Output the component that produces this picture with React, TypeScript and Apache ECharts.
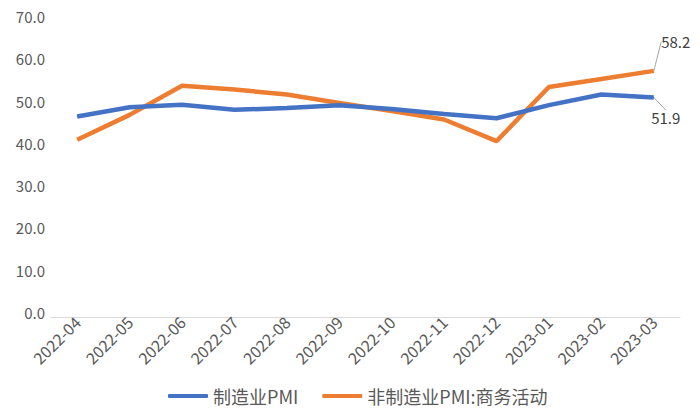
import React, { useEffect, useRef } from "react";
import * as echarts from "echarts";

const categories = ["2022-04","2022-05","2022-06","2022-07","2022-08","2022-09","2022-10","2022-11","2022-12","2023-01","2023-02","2023-03"];
const manufacturing = [47.4, 49.6, 50.2, 49.0, 49.4, 50.1, 49.2, 48.0, 47.0, 50.1, 52.6, 51.9];
const nonManufacturing = [41.9, 47.8, 54.7, 53.8, 52.6, 50.6, 48.7, 46.7, 41.6, 54.4, 56.3, 58.2];
const seriesNames = ["制造业PMI", "非制造业PMI:商务活动"];

const FONT = "'Noto Sans CJK SC', 'Noto Sans', sans-serif";

export default function App() {
  const ref = useRef<HTMLDivElement>(null);
  useEffect(() => {
    if (!ref.current) return;
    const chart = echarts.init(ref.current, null, { renderer: "svg" });
    const last = categories.length - 1;
    const mkData = (arr: number[], pos: string) =>
      arr.map((v, i) =>
        i === last
          ? {
              value: v,
              label: { show: true, position: pos, fontSize: 15, color: "#404040", fontFamily: FONT },
              labelLine: { show: true, lineStyle: { color: "#a6a6a6", width: 1 } },
            }
          : v
      );
    chart.setOption({
      animation: false,
      textStyle: { fontFamily: FONT },
      grid: { left: 51, right: 20, top: 21, bottom: 103 },
      legend: {
        bottom: 10,
        left: 163,
        itemWidth: 40,
        itemHeight: 4,
        itemGap: 24,
        icon: "roundRect",
        textStyle: { fontSize: 18, color: "#595959", fontFamily: FONT },
        data: seriesNames,
      },
      xAxis: {
        type: "category",
        data: categories,
        boundaryGap: true,
        axisLine: { show: true, lineStyle: { color: "#d9d9d9" } },
        axisTick: { show: false },
        axisLabel: { rotate: 45, fontSize: 16, color: "#595959", margin: 2, interval: 0, fontFamily: FONT },
      },
      yAxis: {
        type: "value",
        min: 0,
        max: 70,
        interval: 10,
        splitLine: { show: false },
        axisLine: { show: false },
        axisTick: { show: false },
        axisLabel: {
          fontSize: 15,
          color: "#595959",
          margin: 6,
          verticalAlign: "bottom",
          lineHeight: 9,
          formatter: (v: number) => v.toFixed(1),
          fontFamily: FONT,
        },
      },
      series: [
        {
          name: seriesNames[0],
          type: "line",
          data: mkData(manufacturing, "bottom"),
          symbol: "circle",
          symbolSize: 1,
          showSymbol: true,
          lineStyle: { width: 4.5, color: "#4472C4" },
          itemStyle: { color: "#4472C4" },
          label: { show: false },
          labelLayout: (p: any) => (p.dataIndex === last ? { dx: 12, dy: 7 } : {}),
          labelLine: { show: true, lineStyle: { color: "#a6a6a6", width: 1 } },
          z: 3,
        },
        {
          name: seriesNames[1],
          type: "line",
          data: mkData(nonManufacturing, "top"),
          symbol: "circle",
          symbolSize: 1,
          showSymbol: true,
          lineStyle: { width: 4.5, color: "#ED7D31" },
          itemStyle: { color: "#ED7D31" },
          label: { show: false },
          labelLayout: (p: any) => (p.dataIndex === last ? { dx: 22, dy: -16 } : {}),
          labelLine: { show: true, lineStyle: { color: "#a6a6a6", width: 1 } },
          z: 2,
        },
      ],
    });
    return () => chart.dispose();
  }, []);
  return (
    <div
      ref={ref}
      style={{ position: "absolute", left: 0, top: 0, width: 700, height: 420, background: "#ffffff" }}
    />
  );
}
